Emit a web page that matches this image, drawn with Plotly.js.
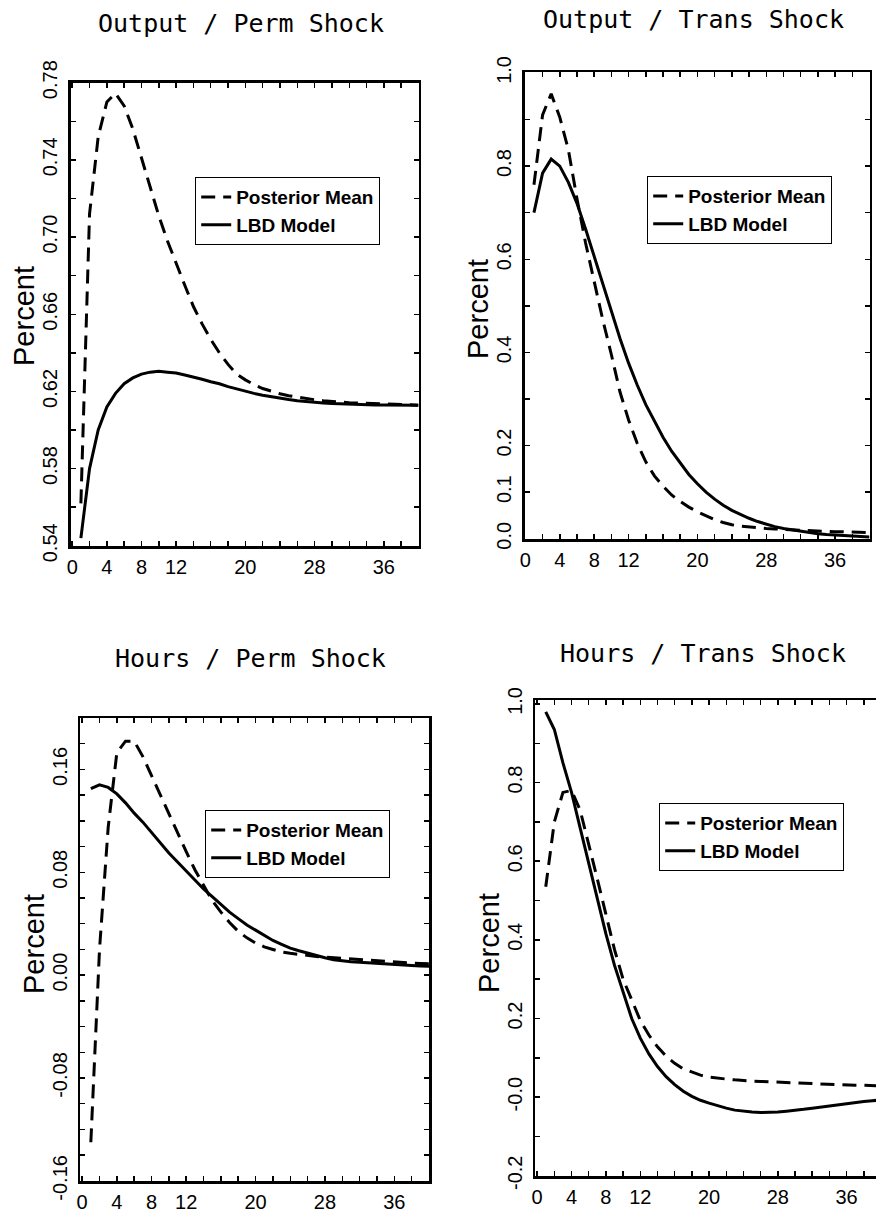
<!DOCTYPE html>
<html>
<head>
<meta charset="utf-8">
<script src="https://cdn.plot.ly/plotly-3.0.1.min.js"></script>
<style>
  html, body { margin: 0; padding: 0; background: #fff; overflow: hidden; }
  #chart { width: 900px; height: 1218px; }
</style>
</head>
<body>
<div id="chart"></div>
<script>
// Quarters after the shock
const periods = [1, 2, 3, 4, 5, 6, 7, 8, 9, 10, 11, 12, 13, 14, 15, 16, 17, 18, 19, 20,
                 21, 22, 23, 24, 25, 26, 27, 28, 29, 30, 31, 32, 33, 34, 35, 36, 37, 38, 39, 40];

// Output response to a permanent shock
const outputPermPosterior = [0.562, 0.712, 0.752, 0.770, 0.7745, 0.768, 0.756, 0.741, 0.726, 0.711,
                             0.698, 0.686, 0.675, 0.664, 0.655, 0.647, 0.640, 0.634, 0.629, 0.626,
                             0.6235, 0.6215, 0.620, 0.6188, 0.6178, 0.617, 0.6163, 0.6157, 0.6152, 0.6148,
                             0.6145, 0.6142, 0.614, 0.6138, 0.6136, 0.6134, 0.6132, 0.6131, 0.613, 0.6129];
const outputPermLBD = [0.544, 0.580, 0.600, 0.612, 0.619, 0.624, 0.627, 0.629, 0.630, 0.6305,
                       0.630, 0.6295, 0.6285, 0.6275, 0.6263, 0.625, 0.624, 0.6225, 0.6213, 0.620,
                       0.619, 0.618, 0.6172, 0.6165, 0.6158, 0.6152, 0.6147, 0.6143, 0.614, 0.6137,
                       0.6135, 0.6133, 0.6132, 0.6131, 0.613, 0.613, 0.6129, 0.6129, 0.6128, 0.6128];

// Output response to a transitory shock
const outputTransPosterior = [0.76, 0.91, 0.955, 0.905, 0.835, 0.73, 0.635, 0.55, 0.47, 0.395,
                              0.315, 0.255, 0.205, 0.165, 0.135, 0.113, 0.094, 0.080, 0.068, 0.058,
                              0.049, 0.041, 0.035, 0.030, 0.027, 0.025, 0.023, 0.022, 0.021, 0.020,
                              0.019, 0.018, 0.017, 0.016, 0.016, 0.015, 0.015, 0.014, 0.014, 0.013];
const outputTransLBD = [0.70, 0.785, 0.815, 0.80, 0.765, 0.72, 0.665, 0.605, 0.545, 0.49,
                        0.43, 0.377, 0.330, 0.288, 0.252, 0.218, 0.188, 0.162, 0.138, 0.118,
                        0.100, 0.085, 0.072, 0.061, 0.052, 0.044, 0.037, 0.031, 0.026, 0.022,
                        0.019, 0.016, 0.013, 0.011, 0.009, 0.008, 0.007, 0.006, 0.005, 0.004];

// Hours response to a permanent shock
const hoursPermPosterior = [-0.13, 0.02, 0.115, 0.173, 0.182, 0.182, 0.170, 0.155, 0.140, 0.125,
                            0.110, 0.096, 0.082, 0.070, 0.058, 0.049, 0.041, 0.034, 0.029, 0.025,
                            0.022, 0.020, 0.018, 0.017, 0.016, 0.015, 0.0145, 0.014, 0.0135, 0.013,
                            0.0125, 0.012, 0.0115, 0.011, 0.0105, 0.010, 0.0097, 0.0094, 0.0091, 0.0088];
const hoursPermLBD = [0.145, 0.148, 0.146, 0.141, 0.134, 0.126, 0.119, 0.111, 0.103, 0.095,
                      0.088, 0.081, 0.074, 0.067, 0.061, 0.055, 0.049, 0.044, 0.039, 0.035,
                      0.031, 0.027, 0.024, 0.021, 0.019, 0.017, 0.015, 0.0135, 0.012, 0.011,
                      0.0105, 0.010, 0.0095, 0.009, 0.0085, 0.008, 0.0078, 0.0075, 0.0072, 0.007];

// Hours response to a transitory shock
const hoursTransPosterior = [0.535, 0.70, 0.775, 0.78, 0.73, 0.645, 0.555, 0.465, 0.375, 0.30,
                             0.245, 0.195, 0.158, 0.128, 0.104, 0.086, 0.072, 0.063, 0.056, 0.051,
                             0.048, 0.046, 0.044, 0.042, 0.041, 0.040, 0.039, 0.038, 0.037, 0.036,
                             0.035, 0.034, 0.033, 0.032, 0.031, 0.031, 0.030, 0.030, 0.029, 0.029];
const hoursTransLBD = [0.98, 0.935, 0.85, 0.775, 0.685, 0.595, 0.505, 0.415, 0.335, 0.265,
                       0.20, 0.150, 0.110, 0.078, 0.052, 0.032, 0.015, 0.002, -0.008, -0.015,
                       -0.022, -0.028, -0.033, -0.036, -0.038, -0.039, -0.039, -0.038, -0.036, -0.034,
                       -0.031, -0.028, -0.025, -0.022, -0.019, -0.016, -0.013, -0.011, -0.009, -0.007];

// Axis tick labels
const xTickVals = [0, 4, 8, 12, 20, 28, 36];
const xTickText = ['0', '4', '8', '12', '20', '28', '36'];
const yTickValsOutPerm = [0.54, 0.58, 0.62, 0.66, 0.70, 0.74, 0.78];
const yTickTextOutPerm = ['0.54', '0.58', '0.62', '0.66', '0.70', '0.74', '0.78'];
const yTickValsOutTrans = [0.0, 0.1, 0.2, 0.4, 0.6, 0.8, 1.0];
const yTickTextOutTrans = ['0.0', '0.1', '0.2', '0.4', '0.6', '0.8', '1.0'];
const yTickValsHrsPerm = [-0.16, -0.08, 0.0, 0.08, 0.16];
const yTickTextHrsPerm = ['-0.16', '-0.08', '0.00', '0.08', '0.16'];
const yTickValsHrsTrans = [-0.2, 0.0, 0.2, 0.4, 0.6, 0.8, 1.0];
const yTickTextHrsTrans = ['-0.2', '-0.0', '0.2', '0.4', '0.6', '0.8', '1.0'];

const panelTitles = ['Output / Perm Shock', 'Output / Trans Shock', 'Hours / Perm Shock', 'Hours / Trans Shock'];
const seriesNames = ['Posterior Mean', 'LBD Model'];

// ---- layout helpers (pixel geometry -> paper fractions) ----
const W = 900, H = 1218;
const fx = p => p / W;
const fy = p => 1 - p / H;
const domX = (a, b) => [fx(a), fx(b)];
const domY = (top, bottom) => [fy(bottom), fy(top)];

const BLACK = '#000';
const tickFont = { family: 'Liberation Sans, Arial, sans-serif', size: 20, color: BLACK };

function xAxis(domain, anchor, range) {
  return {
    domain: domain, anchor: anchor, range: range,
    tickmode: 'array', tickvals: xTickVals, ticktext: xTickText,
    ticks: 'inside', ticklen: 5, tickwidth: 1.5, tickcolor: BLACK,
    minor: { tickmode: 'linear', tick0: 0, dtick: 2, ticks: 'inside', ticklen: 5, tickwidth: 1.5, tickcolor: BLACK },
    mirror: 'allticks', showline: true, linewidth: 2.5, linecolor: BLACK,
    showgrid: false, zeroline: false, tickfont: tickFont, ticklabelstandoff: 1,
    fixedrange: true
  };
}
function yAxis(domain, anchor, range, vals, text, minorStep) {
  return {
    domain: domain, anchor: anchor, range: range,
    tickmode: 'array', tickvals: vals, ticktext: text, tickangle: -90,
    ticks: 'inside', ticklen: 5, tickwidth: 1.5, tickcolor: BLACK,
    minor: { tickmode: 'linear', tick0: 0, dtick: minorStep, ticks: 'inside', ticklen: 5, tickwidth: 1.5, tickcolor: BLACK },
    mirror: 'allticks', showline: true, linewidth: 2.5, linecolor: BLACK,
    showgrid: false, zeroline: false, tickfont: tickFont, ticklabelstandoff: 3,
    fixedrange: true
  };
}

const dashed = { color: BLACK, width: 3, dash: '14px,8px' };
const solid = { color: BLACK, width: 3 };

function pair(posterior, lbd, xa, ya, legendId) {
  return [
    { x: periods, y: posterior, type: 'scatter', mode: 'lines', name: seriesNames[0],
      line: dashed, xaxis: xa, yaxis: ya, legend: legendId, hoverinfo: 'skip' },
    { x: periods, y: lbd, type: 'scatter', mode: 'lines', name: seriesNames[1],
      line: solid, xaxis: xa, yaxis: ya, legend: legendId, hoverinfo: 'skip' }
  ];
}

const data = [].concat(
  pair(outputPermPosterior, outputPermLBD, 'x', 'y', 'legend'),
  pair(outputTransPosterior, outputTransLBD, 'x2', 'y2', 'legend2'),
  pair(hoursPermPosterior, hoursPermLBD, 'x3', 'y3', 'legend3'),
  pair(hoursTransPosterior, hoursTransLBD, 'x4', 'y4', 'legend4')
);

function legendAt(left, top) {
  return {
    x: fx(left), y: fy(top), xanchor: 'left', yanchor: 'top',
    bgcolor: '#fff', bordercolor: BLACK, borderwidth: 1.2,
    font: { family: 'Liberation Sans, Arial, sans-serif', size: 19, color: BLACK, weight: 'bold' },
    traceorder: 'normal', itemwidth: 30, tracegroupgap: 0
  };
}

const titleFont = { family: 'DejaVu Sans Mono, monospace', size: 25, color: BLACK };
const axisTitleFont = { family: 'Liberation Sans, Arial, sans-serif', size: 29, color: BLACK };

function titleAnn(text, cx, cy) {
  return { text: text, xref: 'paper', yref: 'paper', x: fx(cx), y: fy(cy),
           xanchor: 'center', yanchor: 'middle', showarrow: false, font: titleFont };
}
function percentAnn(cx, cy) {
  return { text: 'Percent', xref: 'paper', yref: 'paper', x: fx(cx), y: fy(cy), textangle: -90,
           xanchor: 'center', yanchor: 'middle', showarrow: false, font: axisTitleFont };
}

const layout = {
  width: W, height: H,
  margin: { l: 0, r: 0, t: 0, b: 0 },
  paper_bgcolor: '#fff', plot_bgcolor: '#fff',
  showlegend: true,
  xaxis:  xAxis(domX(70.5, 418.5), 'y',  [-0.2, 40]),
  yaxis:  yAxis(domY(82.5, 546), 'x',  [0.5399, 0.7801], yTickValsOutPerm, yTickTextOutPerm, 0.02),
  xaxis2: xAxis(domX(524.5, 869.5), 'y2', [-0.1, 40]),
  yaxis2: yAxis(domY(72, 539), 'x2', [-0.0005, 1.002], yTickValsOutTrans, yTickTextOutTrans, 0.1),
  xaxis3: xAxis(domX(80, 429), 'y3', [-0.25, 40]),
  yaxis3: yAxis(domY(718, 1181), 'x3', [-0.1601, 0.2], yTickValsHrsPerm, yTickTextHrsPerm, 0.02),
  xaxis4: xAxis(domX(535, 881), 'y4', [-0.25, 40]),
  yaxis4: yAxis(domY(700, 1176), 'x4', [-0.2005, 1.01], yTickValsHrsTrans, yTickTextHrsTrans, 0.1),
  legend:  legendAt(195, 177),
  legend2: legendAt(647, 176),
  legend3: legendAt(205, 810),
  legend4: legendAt(659, 803),
  annotations: [
    titleAnn(panelTitles[0], 241, 23),
    titleAnn(panelTitles[1], 693, 20),
    titleAnn(panelTitles[2], 250, 658),
    titleAnn(panelTitles[3], 703, 653),
    percentAnn(24, 316),
    percentAnn(478, 309),
    percentAnn(34, 944),
    percentAnn(489, 943)
  ]
};

Plotly.newPlot('chart', data, layout, { staticPlot: true, displayModeBar: false });
</script>
</body>
</html>
